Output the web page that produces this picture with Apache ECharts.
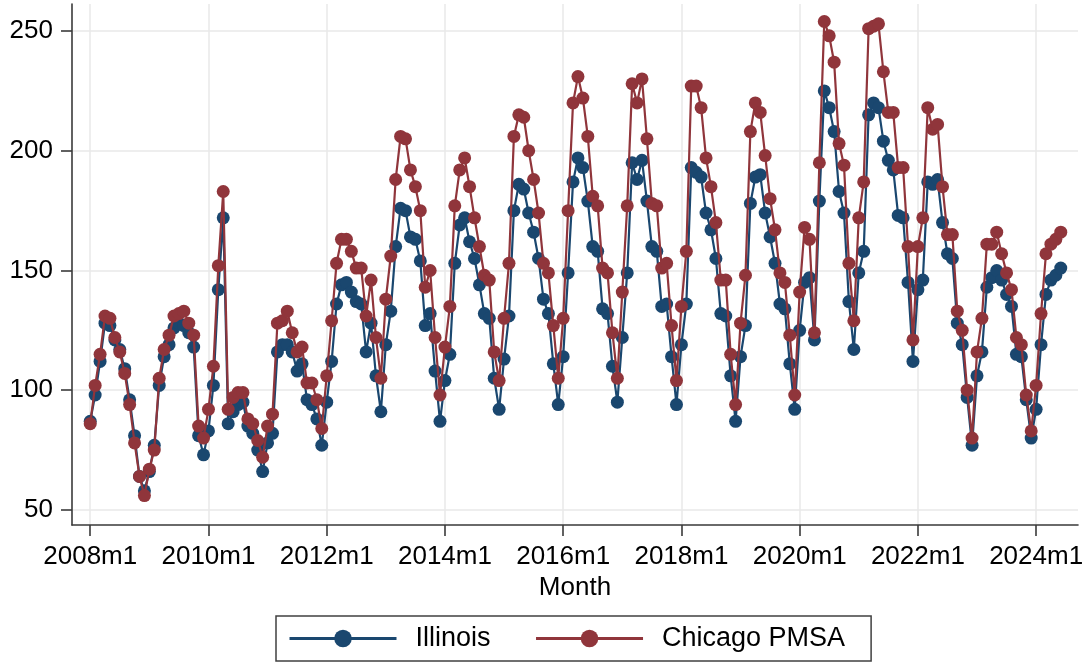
<!DOCTYPE html>
<html>
<head>
<meta charset="utf-8">
<script src="https://cdn.jsdelivr.net/npm/echarts@6/dist/echarts.min.js"></script>
<style>
html,body{margin:0;padding:0;background:#fff;}
#chart{width:1089px;height:667px;}
</style>
</head>
<body>
<div id="chart"></div>
<script>
// Monthly series, 2008m1 .. 2024m6
const startYear = 2008;
const illinois = [
  87,98,112,128,127,121,117,109,96,81,64,58,        // 2008
  66,77,102,114,119,126,128,127,124,118,81,73,      // 2009
  83,102,142,172,86,91,94,95,85,82,75,66,           // 2010
  78,82,116,119,119,116,108,111,96,94,88,77,        // 2011
  95,112,136,144,145,141,137,136,116,128,106,91,    // 2012
  119,133,160,176,175,164,163,154,127,132,108,87,   // 2013
  104,115,153,169,172,162,155,144,132,130,105,92,   // 2014
  113,131,175,186,184,174,166,155,138,132,111,94,   // 2015
  114,149,187,197,193,179,160,158,134,132,110,95,   // 2016
  122,149,195,188,196,179,160,158,135,136,114,94,   // 2017
  119,136,193,191,189,174,167,155,132,131,106,87,   // 2018
  114,127,178,189,190,174,164,153,136,134,111,92,   // 2019
  125,145,147,121,179,225,218,208,183,174,137,117,  // 2020
  149,158,215,220,218,204,196,192,173,172,145,112,  // 2021
  142,146,187,186,188,170,157,155,128,119,97,77,    // 2022
  106,116,143,147,150,146,140,135,115,114,96,80,    // 2023
  92,119,140,146,148,151                            // 2024
];
const chicago = [
  86,102,115,131,130,122,116,107,94,78,64,56,       // 2008
  67,75,105,117,123,131,132,133,128,123,85,80,      // 2009
  92,110,152,183,92,97,99,99,88,86,79,72,           // 2010
  85,90,128,129,133,124,116,118,103,103,96,84,      // 2011
  106,129,153,163,163,158,151,151,131,146,122,105,  // 2012
  138,156,188,206,205,192,185,175,143,150,122,98,   // 2013
  118,135,177,192,197,185,172,160,148,146,116,104,  // 2014
  130,153,206,215,214,200,188,174,153,149,127,105,  // 2015
  130,175,220,231,222,206,181,177,151,149,124,105,  // 2016
  141,177,228,220,230,205,178,177,151,153,127,104,  // 2017
  135,158,227,227,218,197,185,170,146,146,115,94,   // 2018
  128,148,208,220,216,198,180,167,149,145,123,98,   // 2019
  141,168,163,124,195,254,248,237,203,194,153,129,  // 2020
  172,187,251,252,253,233,216,216,193,193,160,121,  // 2021
  160,172,218,209,211,185,165,165,133,125,100,80,   // 2022
  116,130,161,161,166,157,149,142,122,119,98,83,    // 2023
  102,132,157,161,163,166                           // 2024
];
const xTickLabels = ['2008m1','2010m1','2012m1','2014m1','2016m1','2018m1','2020m1','2022m1','2024m1'];
const yTicks = [50,100,150,200,250];
const seriesNames = ['Illinois','Chicago PMSA'];

// month index of each x tick label (months since 2008m1)
const xTickIdx = xTickLabels.map(s => (parseInt(s.slice(0,4)) - startYear) * 12 + parseInt(s.split('m')[1]) - 1);
const toPairs = arr => arr.map((v, i) => [i, v]);

const FONT = 'Liberation Sans, Arial, sans-serif';
const axisCol = '#3a3a3a';
const gridCol = '#e9e9e9';
const FS = 26;

const chart = echarts.init(document.getElementById('chart'), null, {renderer: 'canvas'});
chart.setOption({
  animation: false,
  backgroundColor: '#ffffff',
  grid: {left: 72, right: 11, top: 4, bottom: 142, containLabel: false},
  xAxis: {
    type: 'value',
    min: -3.7,
    max: 200.5,
    name: 'Month',
    nameLocation: 'middle',
    nameGap: 47,
    nameTextStyle: {fontFamily: FONT, fontSize: FS, color: '#000'},
    axisLine: {show: true, onZero: false, lineStyle: {color: axisCol, width: 1.6}},
    axisTick: {show: true, length: 11, customValues: xTickIdx, lineStyle: {color: axisCol, width: 1.6}},
    axisLabel: {
      customValues: xTickIdx,
      margin: 19,
      fontFamily: FONT, fontSize: FS, color: '#000',
      formatter: v => xTickLabels[xTickIdx.indexOf(Math.round(v))] || ''
    },
    splitLine: {show: true, lineStyle: {color: gridCol, width: 1.5}}
  },
  yAxis: {
    type: 'value',
    min: 43.7,
    max: 261.3,
    axisLine: {show: true, onZero: false, lineStyle: {color: axisCol, width: 1.6}},
    axisTick: {show: true, length: 11, customValues: yTicks, lineStyle: {color: axisCol, width: 1.6}},
    axisLabel: {customValues: yTicks, margin: 19, fontFamily: FONT, fontSize: FS, color: '#000'},
    splitLine: {show: true, lineStyle: {color: gridCol, width: 1.5}}
  },
  legend: {
    data: seriesNames,
    left: 276,
    top: 616,
    orient: 'horizontal',
    padding: [9, 26, 9, 12],
    itemGap: 44,
    itemWidth: 107,
    itemHeight: 22,
    lineStyle: {width: 3},
    borderColor: '#404040',
    borderWidth: 1.5,
    borderRadius: 0,
    textStyle: {fontFamily: FONT, fontSize: 27, color: '#000', padding: [0, 0, 0, 14]}
  },
  series: [
    {
      name: seriesNames[0],
      type: 'line',
      data: toPairs(illinois),
      color: '#1a476f',
      symbol: 'circle',
      symbolSize: 13,
      showAllSymbol: true,
      lineStyle: {width: 2.2, color: '#1a476f'},
      itemStyle: {color: '#1a476f'},
      z: 2
    },
    {
      name: seriesNames[1],
      type: 'line',
      data: toPairs(chicago),
      color: '#90353b',
      symbol: 'circle',
      symbolSize: 13,
      showAllSymbol: true,
      lineStyle: {width: 2.2, color: '#90353b'},
      itemStyle: {color: '#90353b'},
      z: 3
    }
  ]
});
</script>
</body>
</html>
